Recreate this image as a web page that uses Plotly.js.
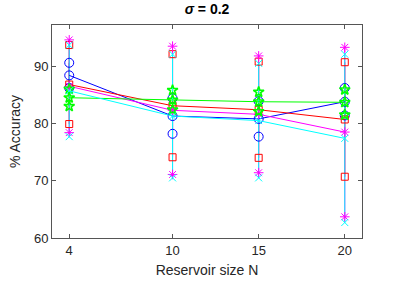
<!DOCTYPE html>
<html>
<head>
<meta charset="utf-8">
<script src="https://cdn.plot.ly/plotly-3.0.1.min.js"></script>
<style>html,body{margin:0;padding:0;background:#fff;}#chart{width:399px;height:285px;}</style>
</head>
<body>
<div id="chart"></div>
<script>
// Data
const reservoirSizes = [4, 10, 15, 20];
const seriesNames = ['blue', 'red', 'magenta', 'green', 'cyan'];
const meanBlue    = [88.4, 81.3, 80.8, 83.8];
const stdBlue     = [2.2, 3.1, 3.1, 2.4];
const meanRed     = [86.8, 83.1, 82.4, 80.7];
const stdRed      = [6.9, 9.0, 8.4, 10.0];
const meanMagenta = [86.5, 82.3, 81.6, 78.5];
const stdMagenta  = [8.1, 11.2, 10.2, 14.8];
const meanGreen   = [84.5, 84.1, 83.8, 83.7];
const stdGreen    = [1.5, 1.7, 1.7, 2.2];
const meanCyan    = [85.7, 81.3, 80.5, 77.4];
const stdCyan     = [8.0, 10.8, 10.0, 14.7];
const yTicks = [60, 70, 80, 90];
const xTicks = [4, 10, 15, 20];

const styles = [
  {m: meanBlue, s: stdBlue, color: '#0000ff', symbol: 'circle-open', size: 9, lw: 1},
  {m: meanRed, s: stdRed, color: '#ff0000', symbol: 'square-open', size: 7, lw: 1},
  {m: meanMagenta, s: stdMagenta, color: '#ff00ff', symbol: 'asterisk-open', size: 8, lw: 1},
  {m: meanGreen, s: stdGreen, color: '#00ff00', symbol: 'star-open', size: 8, lw: 1.6},
  {m: meanCyan, s: stdCyan, color: '#00ffff', symbol: 'x-thin-open', size: 7, lw: 1}
];

const traces = [];
// error bars first
styles.forEach((st, i) => {
  traces.push({
    x: reservoirSizes, y: st.m, type: 'scatter', mode: 'none', showlegend: false,
    error_y: {type: 'data', array: st.s, visible: true, width: 0, thickness: 1, color: st.color},
    hoverinfo: 'skip'
  });
});
// lines + markers at means and at mean ± std
styles.forEach((st, i) => {
  const xs = [], ys = [];
  reservoirSizes.forEach((x, j) => {
    xs.push(x, x); ys.push(st.m[j] + st.s[j], st.m[j] - st.s[j]);
  });
  traces.push({
    x: xs, y: ys, type: 'scatter', mode: 'markers', showlegend: false,
    marker: {symbol: st.symbol, size: st.size, color: st.color, line: {color: st.color, width: st.lw}}
  });
  traces.push({
    x: reservoirSizes, y: st.m, type: 'scatter', mode: 'lines+markers', name: seriesNames[i], showlegend: false,
    line: {color: st.color, width: 1},
    marker: {symbol: st.symbol, size: st.size, color: st.color, line: {color: st.color, width: st.lw}}
  });
});

const layout = {
  width: 399, height: 285,
  margin: {l: 52, r: 37, t: 25, b: 47},
  paper_bgcolor: '#fff', plot_bgcolor: '#fff',
  font: {family: 'Liberation Sans, Arial, sans-serif', size: 13, color: '#262626'},
  title: {text: '<b><i>σ</i> = 0.2</b>', x: 0.5, xref: 'paper', y: 0.985, yanchor: 'top', font: {size: 14, color: '#000'}},
  xaxis: {
    range: [3, 21], tickvals: xTicks, ticktext: xTicks.map(String),
    showgrid: false, zeroline: false, showline: true, mirror: 'ticks', linecolor: '#555', linewidth: 1,
    ticks: 'inside', ticklen: 4, tickcolor: '#555',
    title: {text: 'Reservoir size N', font: {size: 14, color: '#262626'}, standoff: 8},
    tickfont: {size: 13, color: '#262626'}
  },
  yaxis: {
    range: [60, 97.2], tickvals: yTicks, ticktext: yTicks.map(String),
    showgrid: false, zeroline: false, showline: true, mirror: 'ticks', linecolor: '#555', linewidth: 1,
    ticks: 'inside', ticklen: 4, tickcolor: '#555',
    title: {text: '% Accuracy', font: {size: 14, color: '#262626'}, standoff: 10},
    tickfont: {size: 13, color: '#262626'}
  }
};

Plotly.newPlot('chart', traces, layout, {displayModeBar: false, staticPlot: true});
</script>
</body>
</html>
